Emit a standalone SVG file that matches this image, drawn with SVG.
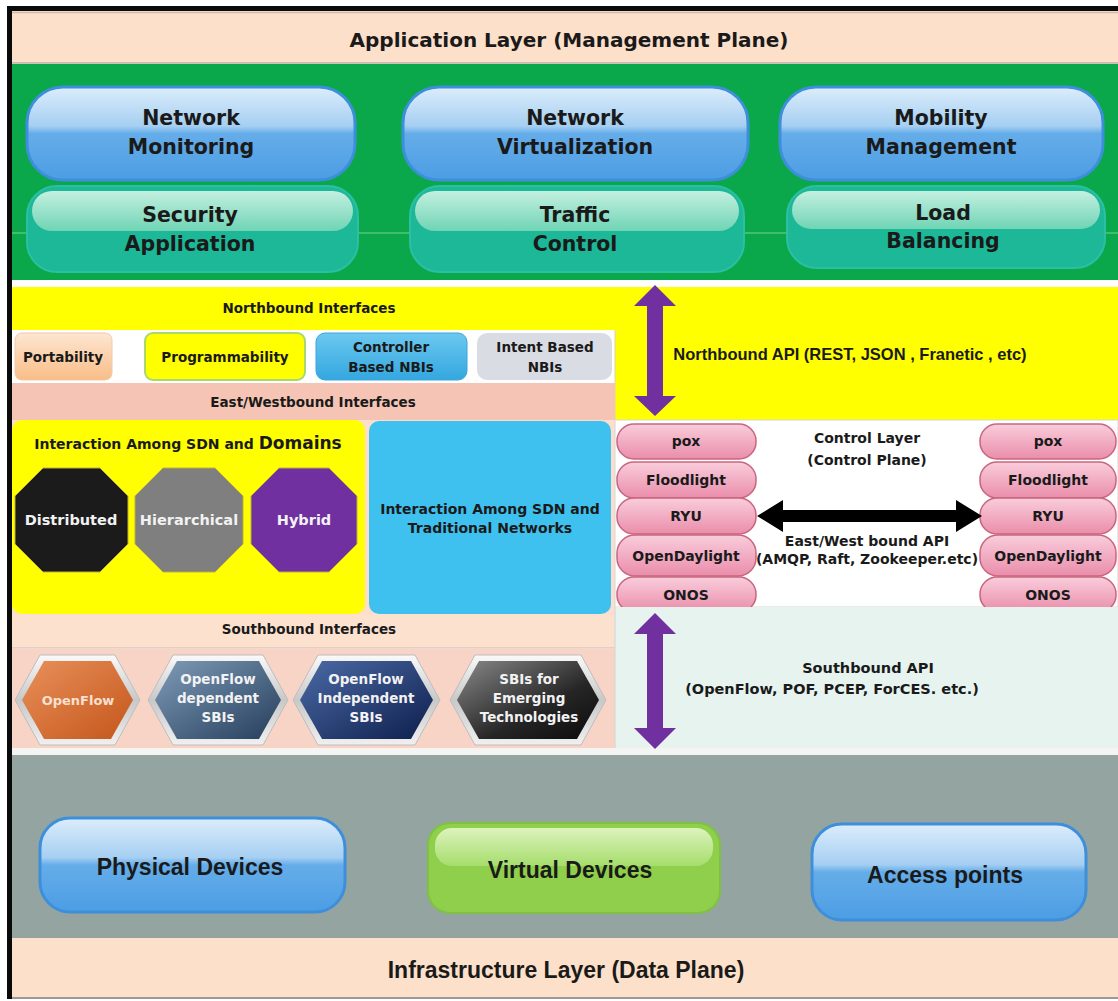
<svg xmlns="http://www.w3.org/2000/svg" width="1118" height="1001" viewBox="0 0 1118 1001">
<defs>
<linearGradient id="gBlue" x1="0" y1="0" x2="0" y2="1">
<stop offset="0" stop-color="#dcedfb"/><stop offset="0.42" stop-color="#a6cff2"/><stop offset="0.5" stop-color="#65ade9"/><stop offset="1" stop-color="#4c9de4"/>
</linearGradient>
<linearGradient id="gTealHi" x1="0" y1="0" x2="0" y2="1">
<stop offset="0" stop-color="#c4f0e0"/><stop offset="1" stop-color="#6fd4b5"/>
</linearGradient>
<linearGradient id="gGreenHi" x1="0" y1="0" x2="0" y2="1">
<stop offset="0" stop-color="#dcf3bd"/><stop offset="1" stop-color="#a6dd6c"/>
</linearGradient>
<linearGradient id="gPink" x1="0" y1="0" x2="0" y2="1">
<stop offset="0" stop-color="#f9cddb"/><stop offset="1" stop-color="#ea8dab"/>
</linearGradient>
<linearGradient id="gPort" x1="0" y1="0" x2="0" y2="1">
<stop offset="0" stop-color="#fde6d2"/><stop offset="1" stop-color="#f9bd86"/>
</linearGradient>
<linearGradient id="gCtrl" x1="0" y1="0" x2="0" y2="1">
<stop offset="0" stop-color="#6cc8f0"/><stop offset="1" stop-color="#33a7df"/>
</linearGradient>
<linearGradient id="gSilver" x1="0" y1="0" x2="0" y2="1">
<stop offset="0" stop-color="#fafafa"/><stop offset="0.5" stop-color="#c8c8c8"/><stop offset="1" stop-color="#f0f0f0"/>
</linearGradient>
<linearGradient id="gOrange" x1="0" y1="0" x2="1" y2="1">
<stop offset="0" stop-color="#e8905a"/><stop offset="1" stop-color="#c4561b"/>
</linearGradient>
<linearGradient id="gSlate" x1="0" y1="0" x2="1" y2="1">
<stop offset="0" stop-color="#7f9cb9"/><stop offset="1" stop-color="#243d5a"/>
</linearGradient>
<linearGradient id="gNavy" x1="0" y1="0" x2="1" y2="1">
<stop offset="0" stop-color="#4c6aa6"/><stop offset="1" stop-color="#0d1f4c"/>
</linearGradient>
<linearGradient id="gBlack" x1="0" y1="0" x2="1" y2="1">
<stop offset="0" stop-color="#8a8a8a"/><stop offset="0.6" stop-color="#262626"/><stop offset="1" stop-color="#0a0a0a"/>
</linearGradient>
<style>
.band{stroke:none}
.bp{fill:url(#gBlue);stroke:#3e8fdb;stroke-width:3}
.tp{fill:#1cb898;stroke:#2bbfa3;stroke-width:2}
.thi{fill:url(#gTealHi);stroke:none}
.pk{fill:url(#gPink);stroke:#c9657f;stroke-width:1.5}
.t{font-family:"DejaVu Sans",Verdana,sans-serif;font-weight:bold;fill:#1a1a1a;text-anchor:middle}
.a{font-family:"Liberation Sans",Arial,sans-serif;font-weight:bold;fill:#1a1a1a;text-anchor:middle}
.big{font-size:20.5px}
.mid{font-size:14px}
.sm{font-size:13.5px}
.w{fill:#f2f2f2}
.hexo{fill:url(#gSilver);stroke:#bdbdbd;stroke-width:1}
</style>
</defs>

<rect x="0" y="0" width="1118" height="1001" fill="#ffffff"/>

<!-- Application layer -->
<g id="app-layer">
<rect class="band" x="12" y="11" width="1106" height="52" fill="#fde0c9"/>
<line x1="12" y1="12.5" x2="1118" y2="12.5" stroke="#c9beb2" stroke-width="1.5"/>
<line x1="12" y1="63" x2="1118" y2="63" stroke="#b8b0a6" stroke-width="1.5"/>
<text class="t" x="569" y="47" style="font-size:20px">Application Layer (Management Plane)</text>
<rect class="band" x="12" y="64" width="1106" height="216" fill="#0aa84a"/>
<line x1="12" y1="233" x2="1118" y2="233" stroke="#74d390" stroke-width="1.2"/>
</g>

<g id="network-monitoring">
<rect class="bp" x="27" y="87" width="328" height="93" rx="36"/>
<text class="t big" x="191" y="125">Network</text>
<text class="t big" x="191" y="154">Monitoring</text>
</g>
<g id="network-virtualization">
<rect class="bp" x="403" y="87" width="345" height="93" rx="36"/>
<text class="t big" x="575" y="125">Network</text>
<text class="t big" x="575" y="154">Virtualization</text>
</g>
<g id="mobility-management">
<rect class="bp" x="780" y="87" width="323" height="93" rx="36"/>
<text class="t big" x="941" y="125">Mobility</text>
<text class="t big" x="941" y="154">Management</text>
</g>
<g id="security-application">
<rect class="tp" x="27" y="186" width="331" height="86" rx="30"/>
<rect class="thi" x="32" y="191" width="321" height="40" rx="20"/>
<text class="t big" x="190" y="222">Security</text>
<text class="t big" x="190" y="251">Application</text>
</g>
<g id="traffic-control">
<rect class="tp" x="410" y="186" width="334" height="86" rx="30"/>
<rect class="thi" x="415" y="191" width="324" height="40" rx="20"/>
<text class="t big" x="575" y="222">Traffic</text>
<text class="t big" x="575" y="251">Control</text>
</g>
<g id="load-balancing">
<rect class="tp" x="787" y="186" width="318" height="82" rx="30"/>
<rect class="thi" x="792" y="191" width="308" height="38" rx="19"/>
<text class="t big" x="943" y="220">Load</text>
<text class="t big" x="943" y="248">Balancing</text>
</g>

<!-- Northbound region -->
<g id="northbound-interfaces">
<rect class="band" x="12" y="287" width="1106" height="43" fill="#ffff00"/>
<rect class="band" x="615" y="287" width="503" height="133" fill="#ffff00"/>
<rect class="band" x="12" y="330" width="603" height="53" fill="#ffffff"/>
<line x1="615" y1="330" x2="615" y2="420" stroke="#d9d2b0" stroke-width="1"/>
<text class="t sm" x="309" y="313">Northbound Interfaces</text>
</g>
<g id="portability">
<rect x="15" y="333" width="97" height="47" rx="7" fill="url(#gPort)" stroke="#f2c9a8" stroke-width="1"/>
<text class="t sm" x="63" y="362">Portability</text>
</g>
<g id="programmability">
<rect x="145" y="333" width="160" height="47" rx="8" fill="#ffff00" stroke="#a8d86e" stroke-width="2"/>
<text class="t sm" x="225" y="362">Programmability</text>
</g>
<g id="controller-based-nbis">
<rect x="316" y="333" width="151" height="47" rx="9" fill="url(#gCtrl)" stroke="#3aa6d8" stroke-width="1"/>
<text class="t sm" x="391" y="352">Controller</text>
<text class="t sm" x="391" y="372">Based  NBIs</text>
</g>
<g id="intent-based-nbis">
<rect x="477" y="333" width="135" height="47" rx="10" fill="#d9dce2"/>
<text class="t sm" x="545" y="352">Intent Based</text>
<text class="t sm" x="545" y="372">NBIs</text>
</g>
<g id="eastwest-interfaces">
<rect class="band" x="12" y="383" width="603" height="37" fill="#f5c4b4"/>
<text class="t sm" x="313" y="407">East/Westbound Interfaces</text>
</g>
<g id="northbound-api">
<text class="a" x="850" y="360" style="font-size:16.5px">Northbound API (REST, JSON , Franetic , etc)</text>
</g>

<!-- middle -->
<rect class="band" x="12" y="420" width="603" height="194" fill="#fbdfcc"/>
<g id="sdn-domains">
<rect x="12" y="420" width="353" height="194" rx="10" fill="#ffff00"/>
<text class="t" x="188" y="449" style="font-size:14px">Interaction Among SDN and <tspan style="font-size:17px">Domains</tspan></text>
</g>
<g id="distributed">
<polygon points="43,468 100,468 128,496 128,544 100,572 43,572 15,544 15,496" fill="#1b1b1b" stroke="#bfae3a" stroke-width="1"/>
<text class="t w" x="71" y="525" style="font-size:14.5px">Distributed</text>
</g>
<g id="hierarchical">
<polygon points="163,468 215,468 243,496 243,544 215,572 163,572 135,544 135,496" fill="#7f7f7f" stroke="#bfae3a" stroke-width="1"/>
<text class="t w" x="189" y="525" style="font-size:14.5px">Hierarchical</text>
</g>
<g id="hybrid">
<polygon points="279,468 329,468 357,496 357,544 329,572 279,572 251,544 251,496" fill="#7030a0" stroke="#bfae3a" stroke-width="1"/>
<text class="t w" x="304" y="525" style="font-size:14.5px">Hybrid</text>
</g>
<g id="sdn-traditional">
<rect x="369" y="421" width="242" height="193" rx="10" fill="#3fc1ef"/>
<text class="t mid" x="490" y="514">Interaction Among SDN and</text>
<text class="t mid" x="490" y="533">Traditional Networks</text>
</g>

<!-- control layer -->
<g id="control-layer">
<rect x="615" y="420" width="503" height="187" fill="#ffffff" stroke="#d6d6d6" stroke-width="1"/>
<text class="t mid" x="867" y="443">Control Layer</text>
<text class="t mid" x="867" y="465">(Control  Plane)</text>
<text class="t mid" x="867" y="546">East/West bound API</text>
<text class="t mid" x="867" y="564">(AMQP, Raft, Zookeeper.etc)</text>
</g>
<g id="left-controllers">
<rect class="pk" x="617" y="424" width="139" height="35" rx="17"/>
<text class="t mid" x="686" y="446">pox</text>
<rect class="pk" x="617" y="462" width="139" height="36" rx="17"/>
<text class="t mid" x="686" y="485">Floodlight</text>
<rect class="pk" x="617" y="498" width="139" height="36" rx="17"/>
<text class="t mid" x="686" y="521">RYU</text>
<rect class="pk" x="617" y="535" width="139" height="41" rx="18"/>
<text class="t mid" x="686" y="561">OpenDaylight</text>
<rect class="pk" x="617" y="577" width="139" height="35" rx="17"/>
<text class="t mid" x="686" y="600">ONOS</text>
</g>
<g id="right-controllers">
<rect class="pk" x="980" y="424" width="136" height="35" rx="17"/>
<text class="t mid" x="1048" y="446">pox</text>
<rect class="pk" x="980" y="462" width="136" height="36" rx="17"/>
<text class="t mid" x="1048" y="485">Floodlight</text>
<rect class="pk" x="980" y="498" width="136" height="36" rx="17"/>
<text class="t mid" x="1048" y="521">RYU</text>
<rect class="pk" x="980" y="535" width="136" height="41" rx="18"/>
<text class="t mid" x="1048" y="561">OpenDaylight</text>
<rect class="pk" x="980" y="577" width="136" height="35" rx="17"/>
<text class="t mid" x="1048" y="600">ONOS</text>
</g>

<!-- southbound -->
<g id="southbound-interfaces">
<rect class="band" x="12" y="614" width="603" height="34" fill="#fce1cf"/>
<line x1="12" y1="648" x2="615" y2="648" stroke="#d9b8a8" stroke-width="1"/>
<text class="t sm" x="309" y="634">Southbound Interfaces</text>
<rect class="band" x="12" y="649" width="603" height="99" fill="#f8d4c6"/>
</g>
<g id="southbound-api">
<rect class="band" x="615" y="607" width="503" height="141" fill="#e6f3ef"/>
<line x1="615" y1="607" x2="615" y2="748" stroke="#d4d4d4" stroke-width="1"/>
<text class="t" x="868" y="673" style="font-size:14.5px">Southbound API</text>
<text class="t" x="832" y="694" style="font-size:14.5px">(OpenFlow, POF, PCEP, ForCES. etc.)</text>
</g>
<g id="openflow">
<polygon class="hexo" points="15,700 40,655 115,655 140,700 115,745 40,745"/>
<polygon points="22,700 44,661 111,661 133,700 111,739 44,739" fill="url(#gOrange)"/>
<text class="t" x="78" y="705" style="font-size:13px;fill:#f8e0cf">OpenFlow</text>
</g>
<g id="openflow-dependent">
<polygon class="hexo" points="148,700 173,655 263,655 288,700 263,745 173,745"/>
<polygon points="155,700 177,661 259,661 281,700 259,739 177,739" fill="url(#gSlate)"/>
<text class="t w" x="218" y="684" style="font-size:13.5px">OpenFlow</text>
<text class="t w" x="218" y="703" style="font-size:13.5px">dependent</text>
<text class="t w" x="218" y="722" style="font-size:13.5px">SBIs</text>
</g>
<g id="openflow-independent">
<polygon class="hexo" points="293,700 318,655 415,655 440,700 415,745 318,745"/>
<polygon points="300,700 322,661 411,661 433,700 411,739 322,739" fill="url(#gNavy)"/>
<text class="t w" x="366" y="684" style="font-size:13.5px">OpenFlow</text>
<text class="t w" x="366" y="703" style="font-size:13.5px">Independent</text>
<text class="t w" x="366" y="722" style="font-size:13.5px">SBIs</text>
</g>
<g id="sbis-emerging">
<polygon class="hexo" points="450,700 475,655 581,655 606,700 581,745 475,745"/>
<polygon points="457,700 479,661 577,661 599,700 577,739 479,739" fill="url(#gBlack)"/>
<text class="t w" x="529" y="684" style="font-size:13.5px">SBIs for</text>
<text class="t w" x="529" y="703" style="font-size:13.5px">Emerging</text>
<text class="t w" x="529" y="722" style="font-size:13.5px">Technologies</text>
</g>

<!-- infrastructure -->
<g id="infra-layer">
<rect class="band" x="12" y="748" width="1106" height="7" fill="#f4f4f2"/>
<rect class="band" x="12" y="755" width="1106" height="183" fill="#94a4a1"/>
<rect class="band" x="12" y="938" width="1106" height="59" fill="#fde0c9"/>
<line x1="12" y1="998" x2="1118" y2="998" stroke="#9a9a9a" stroke-width="2"/>
<text class="a" x="566" y="978" style="font-size:23px">Infrastructure Layer (Data Plane)</text>
</g>
<g id="physical-devices">
<rect class="bp" x="40" y="818" width="305" height="94" rx="30"/>
<text class="a" x="190" y="875" style="font-size:23px">Physical Devices</text>
</g>
<g id="virtual-devices">
<rect x="428" y="823" width="292" height="90" rx="22" fill="#8fcf4c" stroke="#7ec144" stroke-width="2"/>
<rect x="435" y="828" width="278" height="38" rx="17" fill="url(#gGreenHi)"/>
<text class="a" x="570" y="878" style="font-size:23px">Virtual Devices</text>
</g>
<g id="access-points">
<rect class="bp" x="812" y="824" width="274" height="96" rx="30"/>
<text class="a" x="945" y="883" style="font-size:23px">Access points</text>
</g>

<!-- outer frame -->
<rect x="7" y="6" width="1111" height="5" fill="#0a0a0a"/>
<rect x="7" y="6" width="5" height="993" fill="#0a0a0a"/>

<!-- connectors -->
<g id="connectors">
<polygon points="655,285 676,306 663,306 663,396 676,396 655,416 634,396 647,396 647,306 634,306" fill="#7030a0"/>
<polygon points="655,613 676,634 663,634 663,728 676,728 655,749 634,728 647,728 647,634 634,634" fill="#7030a0"/>
<polygon points="757,516 783,500 783,510 956,510 956,500 982,516 956,532 956,522 783,522 783,532" fill="#000000"/>
</g>
</svg>
